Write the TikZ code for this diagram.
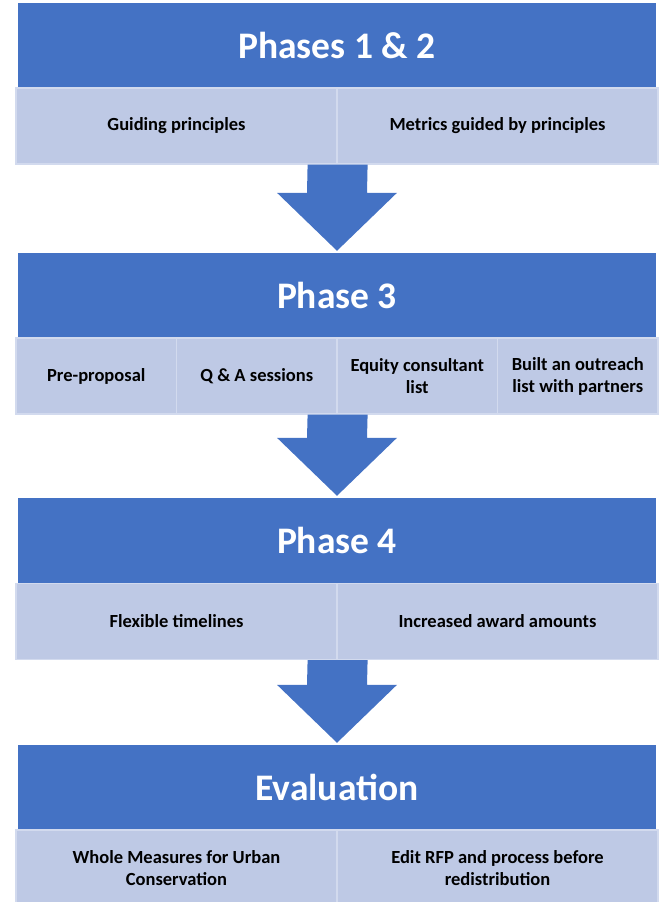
\documentclass[tikz,border=0pt]{standalone}
\usepackage{fontspec}
\setmainfont{Carlito}
\usetikzlibrary{calc}
\definecolor{phaseblue}{RGB}{68,114,196}
\definecolor{cellblue}{RGB}{190,201,229}
\definecolor{cellline}{RGB}{210,218,238}
\tikzset{
  phase/.style={fill=phaseblue, text=white, minimum width=638, minimum height=85,
    inner sep=0, font=\fontsize{37.5}{42}\selectfont\bfseries},
  cellbox/.style={fill=cellblue, draw=cellline, line width=1.2pt, minimum height=76,
    inner sep=0, align=center, font=\fontsize{18.5}{22}\selectfont\bfseries}
}
% block arrow from the bottom of a row down to the next phase header
\newcommand{\phasearrow}[2]{%
  \fill[phaseblue] ($(#1)+(-30,0)$) -- ($(#1)+(30,0)$) -- ($(#2.north)+(30,-60)$)
    -- ($(#2.north)+(60,-60)$) -- ($(#2.north)+(0,-2)$) -- ($(#2.north)+(-60,-60)$)
    -- ($(#2.north)+(-30,-60)$) -- cycle;}
\begin{document}
\begin{tikzpicture}[x=1pt, y=-1pt]
\useasboundingbox (0,0) rectangle (659,902);
\clip (0,0) rectangle (659,902);
% Phases 1 & 2
\node[phase] (p12) at (337,45.5) {Phases 1 \& 2};
\node[cellbox, minimum width=321] (p12a) at (176.5,126) {Guiding principles};
\node[cellbox, minimum width=321] (p12b) at (497.5,126) {Metrics guided by principles};
% Phase 3
\node[phase] (p3) at (337,295.5) {Phase 3};
\foreach \txt [count=\i] in {Pre-proposal, Q \& A sessions, {Equity consultant\\list}, {Built an outreach\\list with partners}} {
  \node[cellbox, minimum width=160.5] (p3\i) at (16+160.5*\i-80.25,376) {\txt};
}
% Phase 4
\node[phase] (p4) at (337,540.5) {Phase 4};
\node[cellbox, minimum width=321] (p4a) at (176.5,621.5) {Flexible timelines};
\node[cellbox, minimum width=321] (p4b) at (497.5,621.5) {Increased award amounts};
% Evaluation
\node[phase] (ev) at (337,787.5) {Evaluation};
\node[cellbox, minimum width=321] (eva) at (176.5,868) {Whole Measures for Urban\\Conservation};
\node[cellbox, minimum width=321] (evb) at (497.5,868) {Edit RFP and process before\\redistribution};
% arrows
\phasearrow{p12a.south east}{p3}
\phasearrow{p32.south east}{p4}
\phasearrow{p4a.south east}{ev}
\end{tikzpicture}
\end{document}
